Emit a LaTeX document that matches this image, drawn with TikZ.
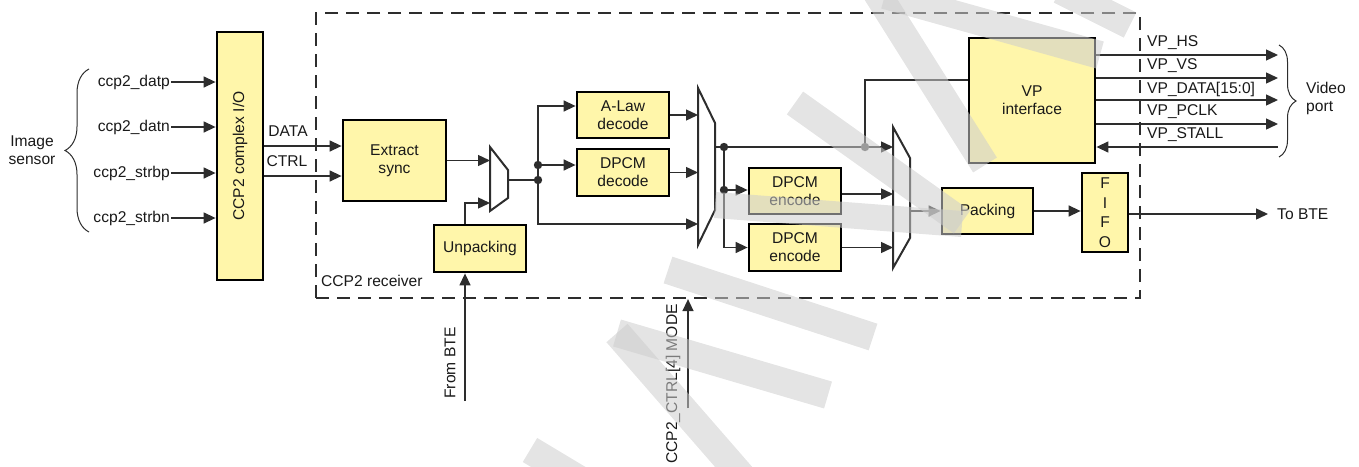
\documentclass[tikz,border=0pt]{standalone}
\usepackage{fontspec}
\setmainfont{Liberation Sans}
\usetikzlibrary{arrows.meta,calc,decorations.pathreplacing}
\definecolor{boxfill}{RGB}{255,246,170}
\definecolor{wirec}{RGB}{45,45,45}
\definecolor{txt}{RGB}{25,25,25}
\definecolor{dotgray}{RGB}{95,95,95}
\definecolor{wmc}{RGB}{205,205,205}
\tikzset{
  blk/.style={draw=black, line width=2.8pt, fill=boxfill, inner sep=0pt, align=center, text=txt},
  wire/.style={draw=wirec, line width=1.4pt},
  arr/.style={wire, -{Triangle[length=12pt,width=11pt]}},
  muxs/.style={draw=wirec, line width=2pt, fill=white, line join=miter},
  lbl/.style={text=txt, inner sep=1pt},
  rxbox/.style={draw=wirec, line width=2.2pt, dash pattern=on 13pt off 8pt, inner sep=0pt, minimum width=824pt, minimum height=285pt},
  curly/.style={draw=wirec, line width=1pt, decorate},
  wmark/.style={draw=wmc, draw opacity=0.55, line width=28pt, line cap=butt},
}
\begin{document}
\begin{tikzpicture}[x=1pt,y=-1pt,font=\fontsize{15.6}{18}\selectfont]
\useasboundingbox (0,0) rectangle (1359,466);

% receiver frame
\node[rxbox] (rx) at (728,155.5) {};
\node[lbl, anchor=west] (rxlbl) at (320,281) {CCP2 receiver};

% blocks
\node[blk, minimum width=46pt, minimum height=248pt] (ccp) at (240,156) {\rotatebox{90}{CCP2 complex I/O}};
\node[blk, minimum width=103pt, minimum height=81pt] (extract) at (394.5,160.5) {Extract\\sync};
\node[blk, minimum width=92pt, minimum height=47pt] (unpack) at (480,248.5) {Unpacking};
\node[blk, minimum width=92pt, minimum height=46pt] (alaw) at (623,115) {A-Law\\decode};
\node[blk, minimum width=92pt, minimum height=47pt] (dpcmd) at (623,172.5) {DPCM\\decode};
\node[blk, minimum width=92pt, minimum height=46pt] (enc1) at (795,191) {DPCM\\encode};
\node[blk, minimum width=92pt, minimum height=47pt] (enc2) at (795,247.5) {DPCM\\encode};
\node[blk, minimum width=91pt, minimum height=46pt] (pack) at (987.5,211) {Packing};
\node[blk, minimum width=46pt, minimum height=79pt, font=\fontsize{15.6}{19.5}\selectfont] (fifo) at (1105,212.5) {F\\I\\F\\O};
\node[blk, minimum width=126pt, minimum height=125pt] (vp) at (1032,100.5) {VP\\interface};

% multiplexers
\draw[muxs] (490,147) coordinate (m1a) -- (508,170) coordinate (m1b) -- (508,198) coordinate (m1c) -- (490,211) coordinate (m1d) -- cycle;
\draw[muxs] (698,88) coordinate (m2a) -- (715,123) coordinate (m2b) -- (715,210) coordinate (m2c) -- (698,245) coordinate (m2d) -- cycle;
\draw[muxs] (893,127) coordinate (m3a) -- (910,158) coordinate (m3b) -- (910,238) coordinate (m3c) -- (893,268) coordinate (m3d) -- cycle;

% image sensor side
\node[lbl, align=center] (img) at (32,150) {Image\\sensor};
\draw[curly, decoration={brace, amplitude=24pt}] (89,232) -- (89,69);
\node[lbl, anchor=east] (ldatp) at (171,82) {ccp2\_datp};
\node[lbl, anchor=east] (ldatn) at (171,127) {ccp2\_datn};
\node[lbl, anchor=east] (lstrbp) at (171,173) {ccp2\_strbp};
\node[lbl, anchor=east] (lstrbn) at (171,218) {ccp2\_strbn};
\draw[arr] (ldatp.east) -- (ldatp.east -| ccp.west);
\draw[arr] (ldatn.east) -- (ldatn.east -| ccp.west);
\draw[arr] (lstrbp.east) -- (lstrbp.east -| ccp.west);
\draw[arr] (lstrbn.east) -- (lstrbn.east -| ccp.west);

% DATA / CTRL
\node[lbl] (ldata) at (288,131) {DATA};
\node[lbl] (lctrl) at (287,161) {CTRL};
\draw[arr] (ccp.east |- 0,146) -- (extract.west |- 0,146);
\draw[arr] (ccp.east |- 0,176) -- (extract.west |- 0,176);

% extract / unpack to mux1
\draw[arr] (extract.east) -- (extract.east -| m1a);
\draw[arr] (unpack.north -| 465,0) |- (m1a |- 0,203);
\coordinate (fbte) at (465,401);
\draw[arr] (fbte) -- (fbte |- unpack.south);
\node[lbl, rotate=90] (lfbte) at (450,363) {From BTE};

% decode fan-out
\coordinate (j1) at (538,165);
\coordinate (j2) at (538,180);
\draw[wire] (m1b |- j2) -- (j2);
\draw[arr] (j2) |- (alaw.west |- 0,106);
\draw[arr] (j1) -- (dpcmd.west |- j1);
\draw[arr] (j2) |- (m2a |- 0,224);
\fill[wirec] (j1) circle (4.2pt);
\fill[wirec] (j2) circle (4.2pt);
\draw[arr] (alaw.east) -- (alaw.east -| m2a);
\draw[arr] (dpcmd.east) -- (dpcmd.east -| m2a);

% encode fan-out
\coordinate (j3) at (724,147);
\coordinate (j5) at (724,190);
\coordinate (j4) at (865,147);
\draw[wire] (m2b |- j3) -- (j3);
\draw[arr] (j3) -- (j3 -| m3a);
\draw[wire] (j4) |- (vp.west |- 0,80);
\draw[arr] (j3) |- (enc2.west);
\draw[arr] (j5) -- (enc1.west |- j5);
\fill[wirec] (j3) circle (4.2pt);
\fill[wirec] (j5) circle (4.2pt);
\fill[dotgray] (j4) circle (4.2pt);
\draw[arr] (enc1.east |- 0,194) -- (m3a |- 0,194);
\draw[arr] (enc2.east) -- (enc2.east -| m3a);

% mode input
\coordinate (mode) at (688,408);
\draw[arr] (mode) -- (mode |- rx.south);
\node[lbl, rotate=90] (lmode) at (673,384) {CCP2\_CTRL[4] MODE};

% output path
\draw[arr] (m3b |- pack.west) -- (pack.west);
\draw[arr] (pack.east) -- (fifo.west |- pack.east);
\node[lbl, anchor=west, inner xsep=9pt] (tobte) at (1268,214) {To BTE};
\draw[arr] (fifo.east |- tobte.west) -- (tobte.west);

% video port
\coordinate (v1) at (1278,55);
\coordinate (v2) at (1278,78);
\coordinate (v3) at (1278,100);
\coordinate (v4) at (1278,124);
\coordinate (v5) at (1278,147);
\draw[arr] (vp.east |- v1) -- (v1);
\draw[arr] (vp.east |- v2) -- (v2);
\draw[arr] (vp.east |- v3) -- (v3);
\draw[arr] (vp.east |- v4) -- (v4);
\draw[arr] (v5) -- (vp.east |- v5);
\node[lbl, anchor=west] (lhs) at (1146,43) {VP\_HS};
\node[lbl, anchor=west] (lvs) at (1146,66) {VP\_VS};
\node[lbl, anchor=west] (ldat) at (1146,89) {VP\_DATA[15:0]};
\node[lbl, anchor=west] (lpclk) at (1146,112) {VP\_PCLK};
\node[lbl, anchor=west] (lstall) at (1146,135) {VP\_STALL};
\draw[curly, decoration={brace, amplitude=17pt}] (1279,45) -- (1279,157);
\node[lbl, anchor=west, align=left] (vport) at (1305,98) {Video\\port};

% watermark (light grey translucent strokes drawn over the diagram)
\draw[wmark] (795,103) -- (962,222);
\draw[wmark, line width=26pt] (715,205) -- (962,224);
\draw[wmark] (668,270) -- (873,337);
\draw[wmark] (617,333) -- (828,395);
\draw[wmark] (617,333) -- (745,480);
\draw[wmark] (530,450) -- (580,480);
\draw[wmark] (875,-10) -- (985,165);
\draw[wmark] (885,-5) -- (1100,55);
\draw[wmark] (1060,-10) -- (1130,25);
\end{tikzpicture}
\end{document}
